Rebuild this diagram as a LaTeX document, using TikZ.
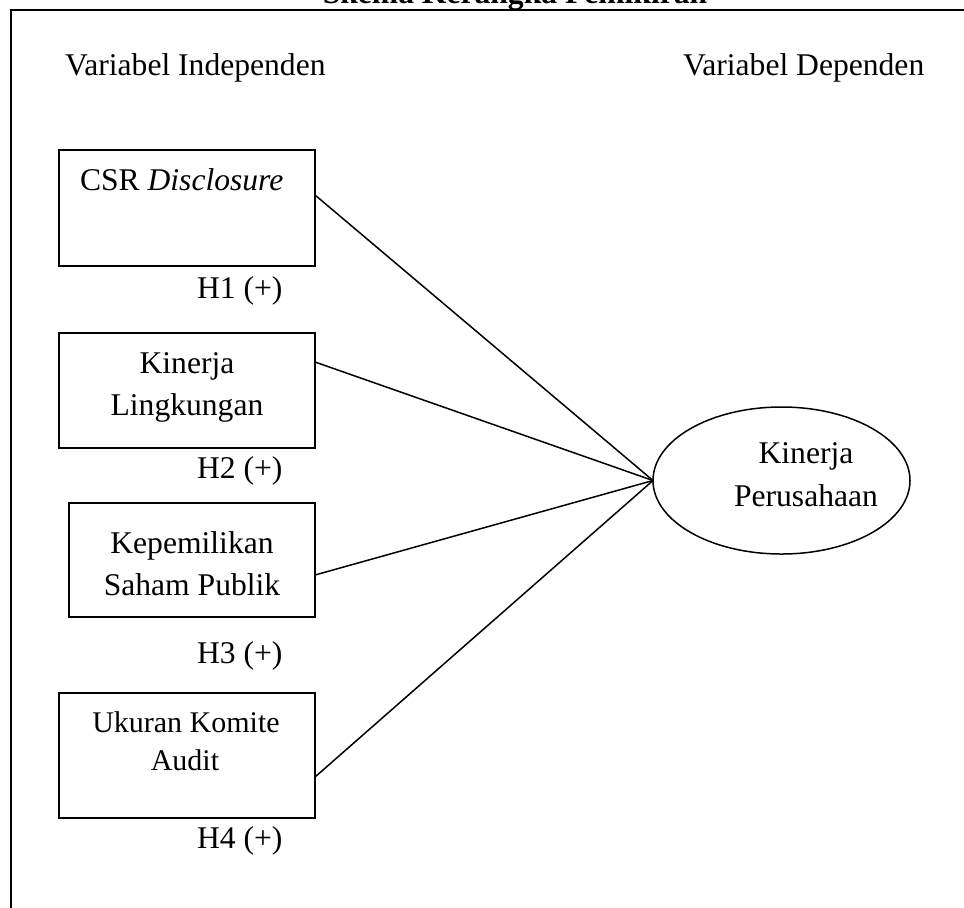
\documentclass[tikz,border=0pt]{standalone}
\usepackage{fontspec}
\setmainfont{Liberation Serif}
\usetikzlibrary{shapes.geometric}
\begin{document}
\begin{tikzpicture}[x=0.5pt,y=-0.5pt,
  txt/.style={inner sep=0pt, outer sep=0pt, font=\fontsize{15.8}{19}\selectfont},
  boxnode/.style={draw, line width=1pt, inner sep=0pt, outer sep=0pt},
  conn/.style={line width=0.75pt},
]
\useasboundingbox (0,0) rectangle (964,907);
% frame (partly outside the page)
\draw[line width=1pt] (11,930) -- (11,10) -- (990,10);
\node[txt, anchor=base, font=\fontsize{15.8}{19}\selectfont\bfseries] (title) at (515,3.5) {Skema Kerangka Pemikiran};

\node[txt, anchor=base west] (vi) at (65,75) {Variabel Independen};
\node[txt, anchor=base west] (vd) at (683,75) {Variabel Dependen};

% boxes
\node[boxnode, minimum width=128pt, minimum height=58pt] (b1) at (187,208) {};
\node[boxnode, minimum width=128pt, minimum height=57.5pt] (b2) at (187,390.5) {};
\node[boxnode, minimum width=123pt, minimum height=57pt] (b3) at (192,560) {};
\node[boxnode, minimum width=128pt, minimum height=62.5pt] (b4) at (187,755.5) {};

% box texts
\node[txt, anchor=base west] (t1) at (80,190) {CSR \textit{Disclosure}};
\node[txt, anchor=base] (t2a) at (187,373) {Kinerja};
\node[txt, anchor=base] (t2b) at (187,415) {Lingkungan};
\node[txt, anchor=base] (t3a) at (192,553) {Kepemilikan};
\node[txt, anchor=base] (t3b) at (192,595) {Saham Publik};
\node[txt, anchor=base, font=\fontsize{15}{18}\selectfont] (t4a) at (186,732) {Ukuran Komite};
\node[txt, anchor=base, font=\fontsize{15}{18}\selectfont] (t4b) at (185,770) {Audit};

% hypothesis labels
\node[txt, anchor=base west] (h1) at (197,298) {H1 (+)};
\node[txt, anchor=base west] (h2) at (197,478) {H2 (+)};
\node[txt, anchor=base west] (h3) at (197,663) {H3 (+)};
\node[txt, anchor=base west] (h4) at (197,848) {H4 (+)};

% ellipse
\node[draw, ellipse, line width=0.75pt, inner sep=0pt, outer sep=0pt,
      minimum width=128.5pt, minimum height=73.5pt] (kp) at (781.5,480.5) {};
\node[txt, anchor=base] (ka) at (806,463) {Kinerja};
\node[txt, anchor=base] (kb) at (806,506) {Perusahaan};

% connectors
\draw[conn] ([yshift=6.5pt]b1.east) -- (kp.west);
\draw[conn] ([yshift=14.25pt]b2.east) -- (kp.west);
\draw[conn] ([yshift=-7.5pt]b3.east) -- (kp.west);
\draw[conn] ([yshift=-10.75pt]b4.east) -- (kp.west);
\end{tikzpicture}
\end{document}
